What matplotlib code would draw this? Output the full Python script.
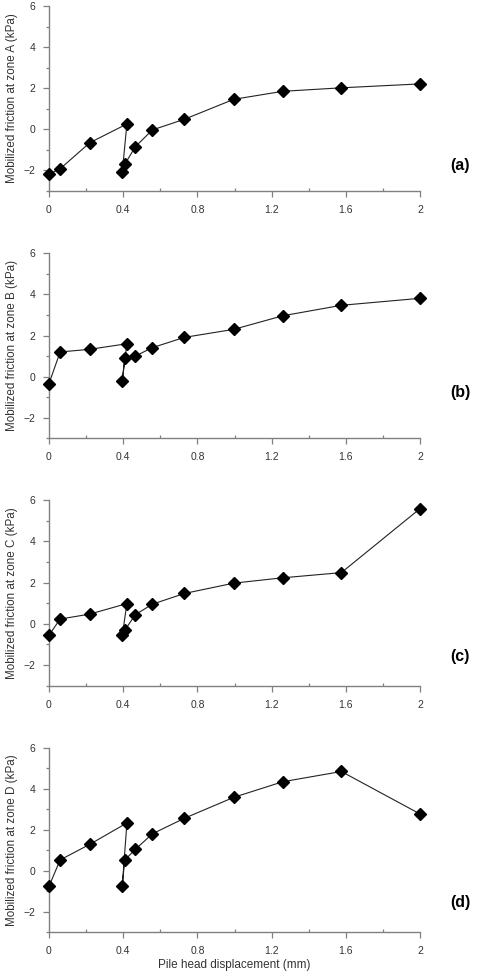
import matplotlib
matplotlib.use("Agg")
import matplotlib.pyplot as plt
from matplotlib.ticker import MultipleLocator

plt.rcParams['font.family'] = ['Liberation Sans', 'DejaVu Sans']

displacement = [0.0, 0.06, 0.22, 0.42, 0.395, 0.408, 0.465, 0.557, 0.73, 0.996, 1.26, 1.576, 2.0]
zone_a = [-2.18, -1.92, -0.65, 0.26, -2.07, -1.71, -0.85, -0.03, 0.49, 1.46, 1.85, 2.02, 2.21]
zone_b = [-0.34, 1.20, 1.33, 1.60, -0.19, 0.89, 1.00, 1.41, 1.91, 2.30, 2.96, 3.47, 3.81]
zone_c = [-0.55, 0.23, 0.47, 0.98, -0.56, -0.32, 0.44, 0.95, 1.47, 1.97, 2.23, 2.48, 5.58]
zone_d = [-0.76, 0.53, 1.29, 2.33, -0.74, 0.52, 1.04, 1.80, 2.56, 3.58, 4.34, 4.84, 2.77]

zones = ['A', 'B', 'C', 'D']
panel_labels = ['(a)', '(b)', '(c)', '(d)']
series = [zone_a, zone_b, zone_c, zone_d]
x_ticks = [0, 0.4, 0.8, 1.2, 1.6, 2]
x_tick_labels = ['0', '0.4', '0.8', '1.2', '1.6', '2']
y_ticks = [-2, 0, 2, 4, 6]

W, H = 480, 975
fig = plt.figure(figsize=(W / 100, H / 100), dpi=100)

# (top px, bottom px) for each panel
panels_px = [(6, 191), (253.3, 438.3), (500, 685.7), (747.7, 932.3)]
left_px, right_px = 49, 420
label_y_px = [165, 393, 657, 903]

axis_col = '#808080'
text_col = '#333333'

for i, (vals, zone, plab) in enumerate(zip(series, zones, panel_labels)):
    top, bot = panels_px[i]
    ax = fig.add_axes([left_px / W, 1 - bot / H, (right_px - left_px) / W, (bot - top) / H])
    ax.plot(displacement, vals, color='#222222', lw=0.8, marker='D', ms=6.2,
            mfc='black', mec='black', clip_on=False, zorder=3)
    ax.set_xlim(0, 2)
    ax.set_ylim(-3, 6)
    ax.set_xticks(x_ticks)
    ax.set_xticklabels(x_tick_labels)
    ax.set_yticks(y_ticks)
    ax.xaxis.set_minor_locator(MultipleLocator(0.2))
    ax.yaxis.set_minor_locator(MultipleLocator(1))
    for s in ['top', 'right']:
        ax.spines[s].set_visible(False)
    for s in ['left', 'bottom']:
        ax.spines[s].set_color(axis_col)
        ax.spines[s].set_linewidth(1.0)
    ax.tick_params(which='major', direction='out', length=4, width=0.9,
                   color=axis_col, labelsize=7.5, labelcolor=text_col, pad=6)
    ax.tick_params(axis='x', which='minor', direction='in', length=2.5, width=0.9, color=axis_col)
    ax.tick_params(axis='y', which='minor', direction='out', length=2, width=0.9, color=axis_col)
    ax.set_ylabel(f'Mobilized friction at zone {zone} (kPa)', fontsize=8.4, color=text_col)
    ax.yaxis.set_label_coords(-31 / (right_px - left_px), 0.5)
    fig.text(460 / W, 1 - label_y_px[i] / H, plab, fontsize=11.5, fontweight='bold',
             ha='center', va='center', color='black')
    if i == 3:
        ax.set_xlabel('Pile head displacement (mm)', fontsize=8.5, color=text_col, labelpad=2)

fig.savefig('out.png', dpi=100, facecolor='white')
